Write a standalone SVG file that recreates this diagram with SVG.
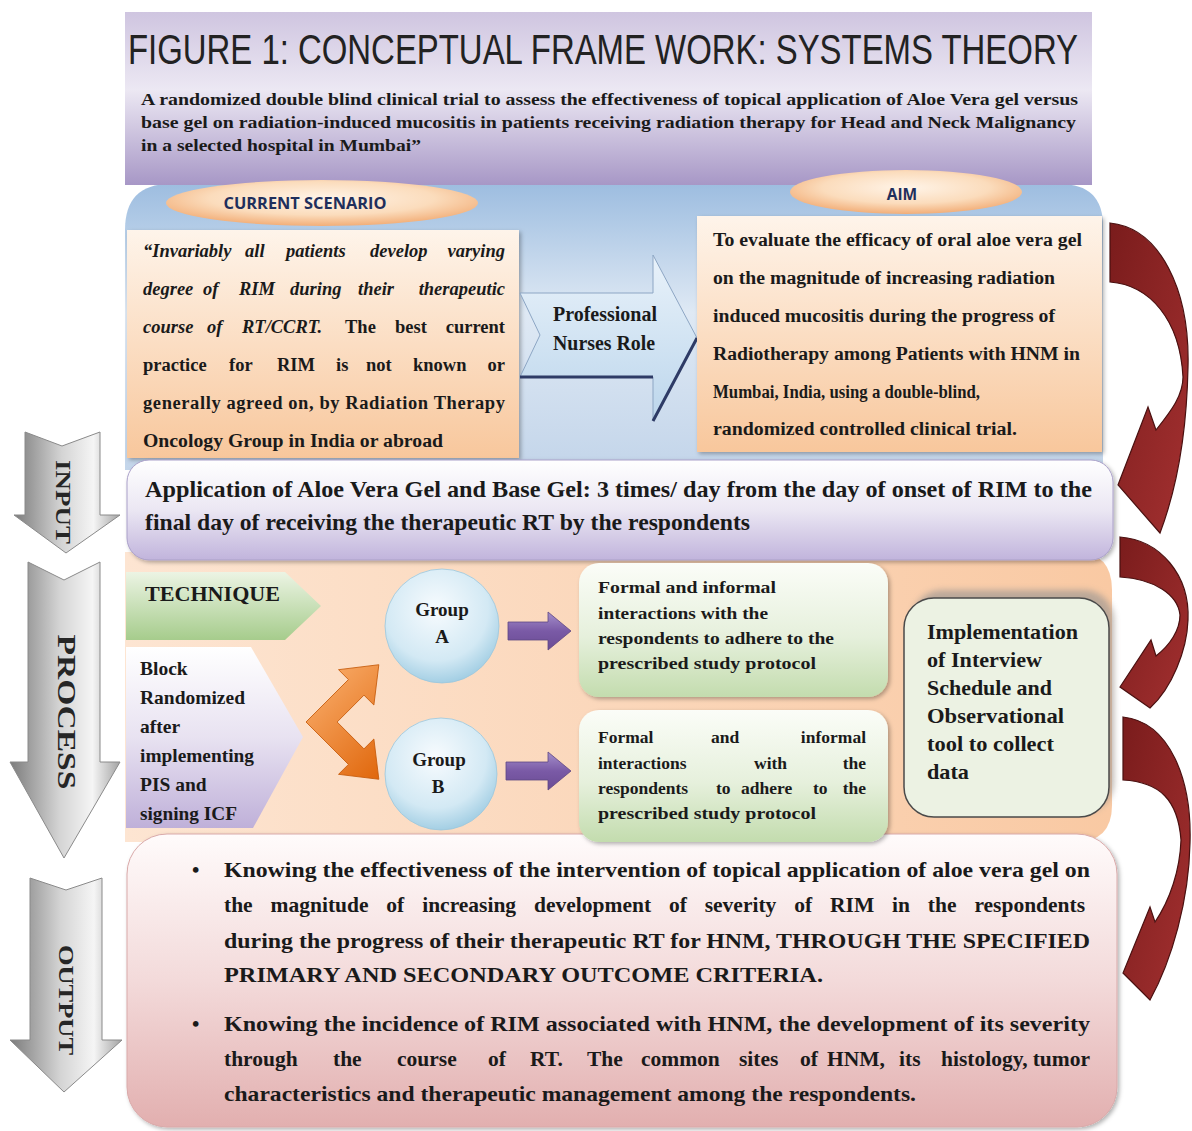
<svg xmlns="http://www.w3.org/2000/svg" width="1192" height="1131" viewBox="0 0 1192 1131">
<defs>
<style>
.t{font-family:"Liberation Serif","Times New Roman",serif;font-weight:bold;fill:#1a1a1a}
.ti{font-style:italic}
.s{font-family:"Open Sans","Liberation Sans",Arial,sans-serif;font-weight:bold;fill:#1f2f5c}
.lbl{font-family:"Liberation Serif","Times New Roman",serif;font-weight:bold;fill:#262626}
.red{fill:url(#gRed);stroke:#4a1010;stroke-width:1.2}
.grey{fill:url(#gGrey);stroke:#8a8a8a;stroke-width:1}
.purp{fill:url(#gPurp);stroke:#5e4683;stroke-width:0.8}
</style>
<linearGradient id="gTitle" x1="0" y1="0" x2="0" y2="1">
<stop offset="0" stop-color="#cfc5e0"/><stop offset="0.45" stop-color="#ece8f3"/><stop offset="1" stop-color="#a797c6"/>
</linearGradient>
<linearGradient id="gBlue" x1="0" y1="0" x2="0" y2="1">
<stop offset="0" stop-color="#9dbde0"/><stop offset="0.45" stop-color="#dfe9f4"/><stop offset="1" stop-color="#c3d5ea"/>
</linearGradient>
<linearGradient id="gPeach" x1="0" y1="0" x2="0" y2="1">
<stop offset="0" stop-color="#fef4ea"/><stop offset="1" stop-color="#f8c79c"/>
</linearGradient>
<radialGradient id="gEll" cx="0.5" cy="0.4" r="0.6">
<stop offset="0" stop-color="#fff4e8"/><stop offset="0.6" stop-color="#fbdcbc"/><stop offset="1" stop-color="#f2ae78"/>
</radialGradient>
<linearGradient id="gArrowBlue" x1="0" y1="0" x2="0" y2="1">
<stop offset="0" stop-color="#e9f2fa"/><stop offset="1" stop-color="#bcd6ec"/>
</linearGradient>
<linearGradient id="gInput" x1="0" y1="0" x2="0" y2="1">
<stop offset="0" stop-color="#ffffff"/><stop offset="0.5" stop-color="#ebe7f3"/><stop offset="1" stop-color="#c1b4dc"/>
</linearGradient>
<linearGradient id="gProc" x1="0" y1="0" x2="1" y2="0">
<stop offset="0" stop-color="#fde5d2"/><stop offset="1" stop-color="#f9c9a3"/>
</linearGradient>
<linearGradient id="gGreenTech" x1="0" y1="0" x2="0" y2="1">
<stop offset="0" stop-color="#ecf4e4"/><stop offset="1" stop-color="#a6cc8c"/>
</linearGradient>
<linearGradient id="gLav" x1="0" y1="0" x2="0" y2="1">
<stop offset="0" stop-color="#ffffff"/><stop offset="0.5" stop-color="#e8e2f1"/><stop offset="1" stop-color="#bfb0d9"/>
</linearGradient>
<radialGradient id="gCirc" cx="0.45" cy="0.35" r="0.65">
<stop offset="0" stop-color="#f7fbfe"/><stop offset="0.7" stop-color="#d3e9f4"/><stop offset="1" stop-color="#a4cfe4"/>
</radialGradient>
<linearGradient id="gPurp" x1="0" y1="0" x2="0" y2="1">
<stop offset="0" stop-color="#a58fcb"/><stop offset="0.5" stop-color="#7a5aa6"/><stop offset="1" stop-color="#6a4b94"/>
</linearGradient>
<linearGradient id="gOrange" x1="0" y1="0" x2="1" y2="0">
<stop offset="0" stop-color="#f6a45f"/><stop offset="1" stop-color="#e0670c"/>
</linearGradient>
<linearGradient id="gGreenBox" x1="0" y1="0" x2="0" y2="1">
<stop offset="0" stop-color="#fbfdf8"/><stop offset="0.55" stop-color="#e6f0dc"/><stop offset="1" stop-color="#c3dcae"/>
</linearGradient>
<linearGradient id="gPink" x1="0" y1="0" x2="0" y2="1">
<stop offset="0" stop-color="#fffbfb"/><stop offset="0.5" stop-color="#f3dada"/><stop offset="1" stop-color="#e2afaf"/>
</linearGradient>
<linearGradient id="gGrey" x1="0" y1="0" x2="1" y2="0">
<stop offset="0" stop-color="#7c7c7c"/><stop offset="0.45" stop-color="#d4d4d4"/><stop offset="0.75" stop-color="#f5f5f5"/><stop offset="1" stop-color="#a3a3a3"/>
</linearGradient>
<linearGradient id="gRed" x1="0" y1="0" x2="1" y2="1">
<stop offset="0" stop-color="#7a1c1c"/><stop offset="1" stop-color="#a33030"/>
</linearGradient>
<filter id="sh" x="-5%" y="-5%" width="115%" height="120%">
<feDropShadow dx="2" dy="2" stdDeviation="2" flood-color="#000" flood-opacity="0.3"/>
</filter>
<filter id="blur" x="-10%" y="-10%" width="120%" height="120%">
<feGaussianBlur stdDeviation="3"/>
</filter>
</defs>

<rect width="1192" height="1131" fill="#ffffff"/>

<!-- background panels -->
<g id="panels">
<path id="blue-panel" d="M125,470 L125,230 Q125,184 170,184 L1060,184 Q1103,184 1103,226 L1103,470 Z" fill="url(#gBlue)"/>
<path id="process-panel" d="M125,552 L1075,552 Q1112,552 1112,590 L1112,805 Q1112,842 1075,842 L125,842 Z" fill="url(#gProc)"/>
</g>

<!-- title -->
<g id="title">
<rect x="125" y="12" width="967" height="173" fill="url(#gTitle)"/>
<text transform="translate(128,64) scale(1,1.27)" x="0" y="0" font-family="'Liberation Sans',Arial,sans-serif" font-size="33" fill="#222" textLength="950" lengthAdjust="spacingAndGlyphs">FIGURE 1: CONCEPTUAL FRAME WORK: SYSTEMS THEORY</text>
<text class="t" x="141" y="105" font-size="17.5" textLength="937" lengthAdjust="spacingAndGlyphs">A randomized double blind clinical trial to assess the effectiveness of topical application of Aloe Vera gel versus</text>
<text class="t" x="141" y="128" font-size="17.5" textLength="935" lengthAdjust="spacingAndGlyphs">base gel on radiation-induced mucositis in patients receiving radiation therapy for Head and Neck Malignancy</text>
<text class="t" x="141" y="151" font-size="17.5" textLength="280" lengthAdjust="spacingAndGlyphs">in a selected hospital in Mumbai”</text>
</g>

<!-- current scenario -->
<g id="current-scenario-label">
<ellipse cx="322" cy="203" rx="156" ry="23" fill="url(#gEll)"/>
<text class="s" x="305" y="209" font-size="15.5" text-anchor="middle" textLength="163" lengthAdjust="spacingAndGlyphs">CURRENT SCENARIO</text>
</g>
<g id="current-scenario">
<rect x="127" y="230" width="392" height="228" fill="url(#gPeach)" filter="url(#sh)"/>
<text class="t" font-size="18.5" y="257"><tspan class="ti" x="143">“Invariably</tspan><tspan class="ti" x="245">all</tspan><tspan class="ti" x="286">patients</tspan><tspan class="ti" x="370">develop</tspan><tspan class="ti" x="505" text-anchor="end">varying</tspan></text>
<text class="t" font-size="18.5" y="295"><tspan class="ti" x="143">degree</tspan><tspan class="ti" x="203">of</tspan><tspan class="ti" x="239">RIM</tspan><tspan class="ti" x="290">during</tspan><tspan class="ti" x="358">their</tspan><tspan class="ti" x="505" text-anchor="end">therapeutic</tspan></text>
<text class="t" font-size="18.5" y="333"><tspan class="ti" x="143">course</tspan><tspan class="ti" x="207">of</tspan><tspan class="ti" x="242">RT/CCRT.</tspan><tspan x="345">The</tspan><tspan x="395">best</tspan><tspan x="505" text-anchor="end">current</tspan></text>
<text class="t" font-size="18.5" y="371"><tspan x="143">practice</tspan><tspan x="229">for</tspan><tspan x="277">RIM</tspan><tspan x="336">is</tspan><tspan x="366">not</tspan><tspan x="413">known</tspan><tspan x="505" text-anchor="end">or</tspan></text>
<text class="t" x="143" y="409" font-size="18.5" textLength="362" lengthAdjust="spacing">generally agreed on, by Radiation Therapy</text>
<text class="t" x="143" y="447" font-size="18.5" textLength="300" lengthAdjust="spacingAndGlyphs">Oncology Group in India or abroad</text>
</g>

<!-- professional nurses role arrow -->
<g id="professional-nurses-role">
<path d="M520,293 L653,293 L653,255 L697,338 L653,421 L653,377 L520,377 L540,335 Z" fill="url(#gArrowBlue)" stroke="#8da6c4" stroke-width="1"/>
<path d="M520,377 L653,377 M653,421 L697,338" stroke="#2e3b66" stroke-width="3" fill="none"/>
<text class="t" x="553" y="321" font-size="20" textLength="104" lengthAdjust="spacingAndGlyphs">Professional</text>
<text class="t" x="553" y="350" font-size="20" textLength="102" lengthAdjust="spacingAndGlyphs">Nurses Role</text>
</g>

<!-- aim -->
<g id="aim-label">
<ellipse cx="906" cy="192" rx="116" ry="22" fill="url(#gEll)"/>
<text class="s" x="902" y="200" font-size="15.5" text-anchor="middle">AIM</text>
</g>
<g id="aim">
<rect x="697" y="216" width="405" height="236" fill="url(#gPeach)" filter="url(#sh)"/>
<text class="t" x="713" y="246" font-size="18.5" textLength="369" lengthAdjust="spacingAndGlyphs">To evaluate the efficacy of oral aloe vera gel</text>
<text class="t" x="713" y="284" font-size="18.5" textLength="342" lengthAdjust="spacingAndGlyphs">on the magnitude of increasing radiation</text>
<text class="t" x="713" y="322" font-size="18.5" textLength="342" lengthAdjust="spacingAndGlyphs">induced mucositis during the progress of</text>
<text class="t" x="713" y="360" font-size="18.5" textLength="367" lengthAdjust="spacingAndGlyphs">Radiotherapy among Patients with HNM in</text>
<text class="t" x="713" y="398" font-size="18.5" textLength="267" lengthAdjust="spacingAndGlyphs">Mumbai, India, using a double-blind,</text>
<text class="t" x="713" y="435" font-size="18.5" textLength="304" lengthAdjust="spacingAndGlyphs">randomized controlled clinical trial.</text>
</g>

<!-- input -->
<g id="input-box">
<rect x="127" y="460" width="986" height="100" rx="22" fill="url(#gInput)" stroke="#aaa0c9" stroke-width="1" filter="url(#sh)"/>
<text class="t" x="145" y="497" font-size="22.5" textLength="947" lengthAdjust="spacingAndGlyphs">Application of Aloe Vera Gel and Base Gel: 3 times/ day from the day of onset of RIM to the</text>
<text class="t" x="145" y="530" font-size="22.5" textLength="605" lengthAdjust="spacingAndGlyphs">final day of receiving the therapeutic RT by the respondents</text>
</g>

<!-- process -->
<g id="technique">
<path d="M126,572 L285,572 L321,606 L285,640 L126,640 Z" fill="url(#gGreenTech)"/>
<text class="t" x="145" y="601" font-size="22" textLength="135" lengthAdjust="spacingAndGlyphs">TECHNIQUE</text>
</g>
<g id="block-randomized">
<path d="M126,647 L251,647 L303,737 L253,828 L126,828 Z" fill="url(#gLav)"/>
<text class="t" font-size="19.5" x="140" y="675">Block</text>
<text class="t" font-size="19.5" x="140" y="704" textLength="105" lengthAdjust="spacingAndGlyphs">Randomized</text>
<text class="t" font-size="19.5" x="140" y="733">after</text>
<text class="t" font-size="19.5" x="140" y="762" textLength="114" lengthAdjust="spacingAndGlyphs">implementing</text>
<text class="t" font-size="19.5" x="140" y="791">PIS and</text>
<text class="t" font-size="19.5" x="140" y="820" textLength="97" lengthAdjust="spacingAndGlyphs">signing ICF</text>
</g>
<g id="randomize-arrow">
<path transform="translate(306,722) rotate(45)" d="M0,0 L60,0 L60,14 L92,-11 L60,-36 L60,-22 L22,-22 L22,-60 L36,-60 L11,-92 L-14,-60 L0,-60 Z" fill="url(#gOrange)" stroke="#c55a0a" stroke-width="0.8"/>
</g>
<g id="group-a">
<circle cx="442" cy="626" r="57" fill="url(#gCirc)" stroke="#9cc7dc" stroke-width="0.8"/>
<text class="t" x="442" y="616" font-size="19" text-anchor="middle">Group</text>
<text class="t" x="442" y="643" font-size="19" text-anchor="middle">A</text>
</g>
<g id="group-b">
<circle cx="441" cy="774" r="56" fill="url(#gCirc)" stroke="#9cc7dc" stroke-width="0.8"/>
<text class="t" x="439" y="766" font-size="19" text-anchor="middle">Group</text>
<text class="t" x="438" y="793" font-size="19" text-anchor="middle">B</text>
</g>
<g id="interaction-a">
<rect x="579" y="563" width="309" height="134" rx="20" fill="url(#gGreenBox)" filter="url(#sh)"/>
<text class="t" x="598" y="593" font-size="17.5" textLength="178" lengthAdjust="spacingAndGlyphs">Formal and informal</text>
<text class="t" x="598" y="619" font-size="17.5" textLength="170" lengthAdjust="spacingAndGlyphs">interactions with the</text>
<text class="t" x="598" y="644" font-size="17.5" textLength="236" lengthAdjust="spacingAndGlyphs">respondents to adhere to the</text>
<text class="t" x="598" y="669" font-size="17.5" textLength="218" lengthAdjust="spacingAndGlyphs">prescribed study protocol</text>
</g>
<g id="implementation">
<rect x="912" y="590" width="202" height="222" rx="30" fill="#a69c94" opacity="0.75" filter="url(#blur)"/>
<rect x="904" y="598" width="205" height="219" rx="30" fill="#ecf2e3" stroke="#4a4a4a" stroke-width="1.5"/>
<text class="t" x="927" y="639" font-size="21" textLength="151" lengthAdjust="spacingAndGlyphs">Implementation</text>
<text class="t" x="927" y="667" font-size="21" textLength="115" lengthAdjust="spacingAndGlyphs">of Interview</text>
<text class="t" x="927" y="695" font-size="21" textLength="125" lengthAdjust="spacingAndGlyphs">Schedule and</text>
<text class="t" x="927" y="723" font-size="21" textLength="137" lengthAdjust="spacingAndGlyphs">Observational</text>
<text class="t" x="927" y="751" font-size="21" textLength="127" lengthAdjust="spacingAndGlyphs">tool to collect</text>
<text class="t" x="927" y="779" font-size="21" textLength="42" lengthAdjust="spacingAndGlyphs">data</text>
</g>

<!-- output -->
<g id="output-box">
<rect x="127" y="834" width="990" height="293" rx="40" fill="url(#gPink)" stroke="#d9a9a9" stroke-width="1" filter="url(#sh)"/>
<text class="t" x="192" y="877" font-size="21">•</text>
<text class="t" x="224" y="877" font-size="21.5" textLength="866" lengthAdjust="spacingAndGlyphs">Knowing the effectiveness of the intervention of topical application of aloe vera gel on</text>
<text class="t" x="224" y="912" font-size="21.5" word-spacing="12.5">the magnitude of increasing development of severity of RIM in the respondents</text>
<text class="t" x="224" y="948" font-size="21.5" textLength="866" lengthAdjust="spacingAndGlyphs">during the progress of their therapeutic RT for HNM, THROUGH THE SPECIFIED</text>
<text class="t" x="224" y="982" font-size="21.5" textLength="599" lengthAdjust="spacingAndGlyphs">PRIMARY AND SECONDARY OUTCOME CRITERIA.</text>
<text class="t" x="192" y="1031" font-size="21">•</text>
<text class="t" x="224" y="1031" font-size="21.5" textLength="866" lengthAdjust="spacingAndGlyphs">Knowing the incidence of RIM associated with HNM, the development of its severity</text>
<text class="t" font-size="21.5" y="1066"><tspan x="224">through</tspan><tspan x="333">the</tspan><tspan x="397">course</tspan><tspan x="488">of</tspan><tspan x="530">RT.</tspan><tspan x="587">The</tspan><tspan x="641">common</tspan><tspan x="739">sites</tspan><tspan x="800">of</tspan><tspan x="827">HNM,</tspan><tspan x="899">its</tspan><tspan x="941">histology,</tspan><tspan x="1090" text-anchor="end">tumor</tspan></text>
<text class="t" x="224" y="1101" font-size="21.5" textLength="692" lengthAdjust="spacingAndGlyphs">characteristics and therapeutic management among the respondents.</text>
</g>

<g id="interaction-b">
<rect x="579" y="710" width="309" height="132" rx="20" fill="url(#gGreenBox)" filter="url(#sh)"/>
<text class="t" font-size="17.5" y="743"><tspan x="598">Formal</tspan><tspan x="711">and</tspan><tspan x="866" text-anchor="end">informal</tspan></text>
<text class="t" font-size="17.5" y="769"><tspan x="598">interactions</tspan><tspan x="754">with</tspan><tspan x="866" text-anchor="end">the</tspan></text>
<text class="t" font-size="17.5" y="794"><tspan x="598">respondents</tspan><tspan x="716">to</tspan><tspan x="741">adhere</tspan><tspan x="813">to</tspan><tspan x="866" text-anchor="end">the</tspan></text>
<text class="t" x="598" y="819" font-size="17.5" textLength="218" lengthAdjust="spacingAndGlyphs">prescribed study protocol</text>
</g>

<!-- left phase arrows -->
<g id="input-arrow">
<path class="grey" d="M25,432 L62,446 L100,432 L100,515 L120,515 L66,553 L14,515 L25,515 Z"/>
<text class="lbl" transform="translate(63,502) rotate(90)" font-size="21" text-anchor="middle" dominant-baseline="central" textLength="84" lengthAdjust="spacingAndGlyphs">INPUT</text>
</g>
<g id="process-arrow">
<path class="grey" d="M28,562 L64,580 L100,562 L100,762 L120,762 L64,858 L10,762 L28,762 Z"/>
<text class="lbl" transform="translate(66,712) rotate(90)" font-size="25" text-anchor="middle" dominant-baseline="central" textLength="155" lengthAdjust="spacingAndGlyphs">PROCESS</text>
</g>
<g id="output-arrow">
<path class="grey" d="M30,878 L66,890 L102,878 L102,1040 L122,1040 L64,1092 L10,1040 L30,1040 Z"/>
<text class="lbl" transform="translate(66,1000) rotate(90)" font-size="20" text-anchor="middle" dominant-baseline="central" textLength="110" lengthAdjust="spacingAndGlyphs">OUTPUT</text>
</g>

<!-- connectors -->
<g id="connectors">
<path class="purp" d="M508,622 L548,622 L548,612 L571,631 L548,650 L548,640 L508,640 Z"/>
<path class="purp" d="M506,762 L548,762 L548,752 L571,771 L548,790 L548,780 L506,780 Z"/>
<path class="red" d="M1110,223 C1160,228 1190,290 1188,367 C1187,420 1180,480 1160,533 L1118,485 L1148,407 L1156,430 C1172,410 1183,395 1183,377 C1180,320 1150,285 1110,282 Z"/>
<path class="red" d="M1120,537 C1160,540 1190,575 1188,620 C1187,650 1172,688 1150,708 L1120,687 L1151,640 L1156,656 C1170,645 1180,630 1180,615 C1178,595 1155,579 1120,577 Z"/>
<path class="red" d="M1123,717 C1170,722 1192,780 1190,843 C1189,900 1172,960 1150,1000 L1123,973 L1150,907 L1155,922 C1170,900 1180,870 1181,840 C1178,800 1160,782 1123,780 Z"/>
</g>
</svg>
